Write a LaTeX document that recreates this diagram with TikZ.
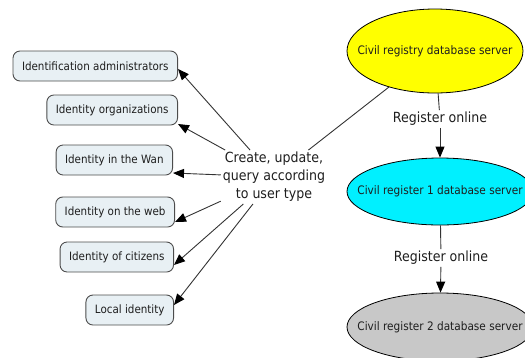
\documentclass[tikz,border=0pt]{standalone}
\usepackage{fontspec}
\setmainfont{DejaVu Sans}[FakeStretch=0.9]
\usetikzlibrary{shapes.geometric,arrows.meta}
\definecolor{idfill}{RGB}{232,240,244}
\definecolor{srvyellow}{RGB}{255,255,0}
\definecolor{srvcyan}{RGB}{0,240,255}
\definecolor{srvgray}{RGB}{200,200,200}
\definecolor{txtcol}{RGB}{30,30,30}
\newcommand{\srvtext}[1]{\makebox[0pt]{#1}}
\begin{document}
\begin{tikzpicture}[x=1pt,y=-1pt,
  idbox/.style={draw=black!70, fill=idfill, rounded corners=7pt, line width=0.9pt,
    minimum height=30pt, inner xsep=9pt, anchor=east,
    font=\fontsize{11.5}{13}\selectfont, text=txtcol},
  server/.style={ellipse, draw=black, line width=0.8pt, inner sep=0pt,
    font=\fontsize{11.7}{13}\selectfont, text=txtcol},
  lab/.style={font=\fontsize{14}{18}\selectfont, text=txtcol, inner sep=2pt},
  link/.style={draw=black!80, line width=0.9pt},
  arr/.style={link, -{Triangle[length=11pt,width=9pt,color=black,fill=black]}}]
\useasboundingbox (0,0) rectangle (525,357);
\clip (0,0) rectangle (525,357);

% servers
\node[server, fill=srvyellow, minimum width=176pt, minimum height=84pt] (s0) at (435,51) {\srvtext{Civil registry database server}};
\node[server, fill=srvcyan, minimum width=186pt, minimum height=67pt] (s1) at (440,191.5) {\srvtext{Civil register 1 database server}};
\node[server, fill=srvgray, minimum width=186pt, minimum height=68pt] (s2) at (440,327) {\srvtext{Civil register 2 database server}};
\node[lab] (r1) at (440,119) {Register online};
\node[lab] (r2) at (441,258) {Register online};

% central text
\node[lab, align=center] (txt) at (274,177) {Create, update,\\query according\\to user type};

% identity boxes
\node[idbox] (b1) at (178,66) {Identification administrators};
\node[idbox] (b2) at (178,110) {Identity organizations};
\node[idbox] (b3) at (173,160) {Identity in the Wan};
\node[idbox] (b4) at (175,212) {Identity on the web};
\node[idbox] (b5) at (174,257) {Identity of citizens};
\node[idbox] (b6) at (174,310) {Local identity};

% connectors
\draw[link] (s0) -- (txt);
\draw[link] (s0) -- (r1);
\draw[arr] (r1) -- (s1);
\draw[link] (s1) -- (r2);
\draw[arr] (r2) -- (s2);

\draw[arr] (txt) -- ([yshift=-3pt]b1.east);
\draw[arr] (txt) -- ([yshift=-14pt]b2.east);
\draw[arr] (txt) -- ([yshift=-13pt]b3.east);
\draw[arr] (txt) -- ([yshift=-10pt]b4.east);
\draw[arr] (txt) -- ([yshift=-8pt]b5.east);
\draw[arr] (txt) -- ([yshift=5pt]b6.east);
\end{tikzpicture}
\end{document}
